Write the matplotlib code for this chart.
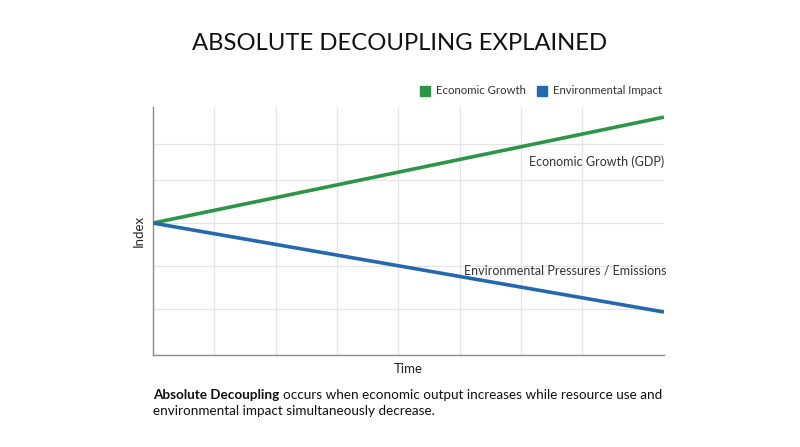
import matplotlib
matplotlib.use("Agg")
import matplotlib.pyplot as plt
from matplotlib.patches import Rectangle

# data (index, start = 100)
time = [0, 10]
gdp = [100, 149.3]
emissions = [100, 58.6]
grid_x = [1.2, 2.4, 3.6, 4.8, 6.0, 7.2, 8.4]
grid_y = [60, 80, 100, 120, 137]

green = "#2e9448"
blue = "#2468ad"
font = "Lato"
plt.rcParams["font.family"] = [font, "DejaVu Sans"]

fig = plt.figure(figsize=(8, 4.47), dpi=100)
ax = fig.add_axes([153 / 800, 1 - 355 / 447, (664 - 153) / 800, (355 - 107) / 447])

ax.plot(time, gdp, color=green, lw=2.6, solid_capstyle="butt", zorder=3)
ax.plot(time, emissions, color=blue, lw=2.6, solid_capstyle="butt", zorder=3)

ax.set_xlim(0, 10)
ax.set_ylim(38.6, 154)
ax.set_xticks(grid_x)
ax.set_yticks(grid_y)
ax.grid(color="#e4e4e4", lw=0.9)
ax.tick_params(length=0, labelbottom=False, labelleft=False)
for s in ["top", "right"]:
    ax.spines[s].set_visible(False)
for s in ["left", "bottom"]:
    ax.spines[s].set_color("#8a8a8a")
    ax.spines[s].set_linewidth(1.0)

ax.set_xlabel("Time", fontsize=9.5, labelpad=6, color="#222222")
ax.set_ylabel("Index", fontsize=9.5, labelpad=6, color="#222222")

# line labels
ax.text(10, 128.4, "Economic Growth (GDP)", ha="right", va="center", fontsize=9, color="#333333")
ax.text(10.05, 78.1, "Environmental Pressures / Emissions", ha="right", va="center",
        fontsize=9, color="#333333")

# title
fig.text(0.5, 1 - 43 / 447, "ABSOLUTE DECOUPLING EXPLAINED", ha="center", va="center",
         fontsize=17.2, color="#111111", weight="normal")

# legend
for x0, c, lab in [(420, green, "Economic Growth"), (537, blue, "Environmental Impact")]:
    fig.patches.append(Rectangle((x0 / 800, 1 - 96 / 447), 10 / 800, 10 / 447,
                                 transform=fig.transFigure, color=c))
    fig.text((x0 + 16) / 800, 1 - 91 / 447, lab, ha="left", va="center", fontsize=8.2,
             color="#333333")

# caption with bold lead
fig.canvas.draw()
r = fig.canvas.get_renderer()
t1 = fig.text(153 / 800, 1 - 395 / 447, "Absolute Decoupling", ha="left", va="center",
              fontsize=9.7, weight="bold", color="#111111")
bb = t1.get_window_extent(renderer=r)
fig.text(bb.x1 / 800 + 4 / 800, 1 - 395 / 447,
         "occurs when economic output increases while resource use and",
         ha="left", va="center", fontsize=9.7, color="#111111")
fig.text(153 / 800, 1 - 411 / 447, "environmental impact simultaneously decrease.",
         ha="left", va="center", fontsize=9.7, color="#111111")

fig.savefig("out.png", dpi=100, facecolor="white")
